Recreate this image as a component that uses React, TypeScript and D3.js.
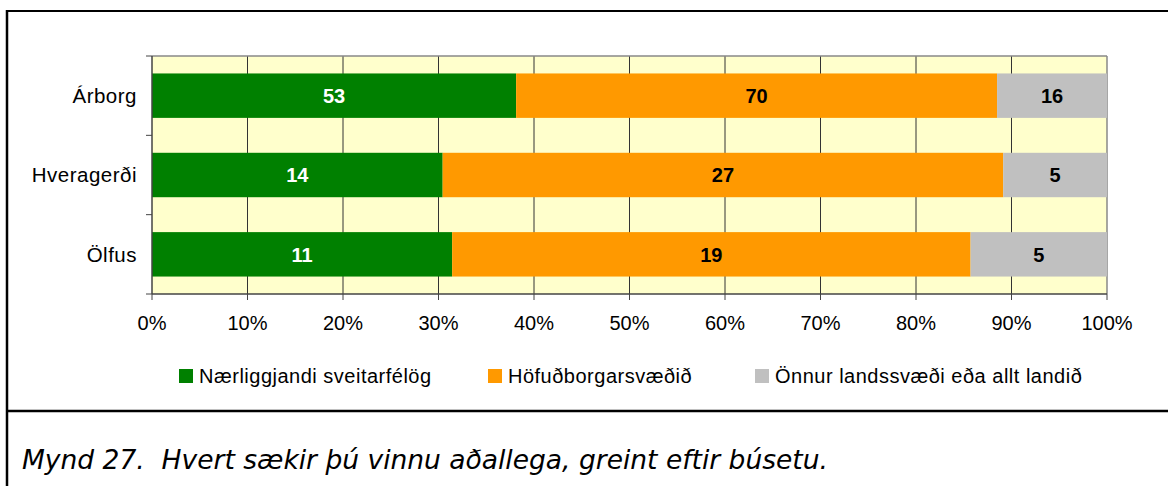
import React from 'react';
import { scaleBand, scaleLinear, stack, range } from 'd3';

// counts per place of residence
const places = ['Árborg', 'Hveragerði', 'Ölfus'];
const seriesNames = [
  'Nærliggjandi sveitarfélög',
  'Höfuðborgarsvæðið',
  'Önnur landssvæði eða allt landið',
];
const nearby = [53, 14, 11];
const capital = [70, 27, 19];
const other = [16, 5, 5];
const xTicks = [0, 0.1, 0.2, 0.3, 0.4, 0.5, 0.6, 0.7, 0.8, 0.9, 1];
const caption = 'Mynd 27.\u00a0\u00a0Hvert sækir þú vinnu aðallega, greint eftir búsetu.';

const colors = ['#008000', '#FF9900', '#C0C0C0'];
const labelColors = ['#ffffff', '#000000', '#000000'];

const W = 1168;
const H = 486;
const plot = { left: 152, right: 1107, top: 56, bottom: 294 };
const font = '"Liberation Sans", Arial, sans-serif';

const App = () => {
  // turn the counts into shares of each row
  const rows = places.map((p, i) => {
    const total = nearby[i] + capital[i] + other[i];
    return {
      name: p,
      k0: nearby[i] / total,
      k1: capital[i] / total,
      k2: other[i] / total,
      raw: [nearby[i], capital[i], other[i]],
    };
  });
  const layers = stack<any>().keys(['k0', 'k1', 'k2'])(rows);

  const x = scaleLinear().domain([0, 1]).range([plot.left, plot.right]);
  const y = scaleBand().domain(places).range([plot.top, plot.bottom]).paddingInner(0.44).paddingOuter(0.22);
  const band = scaleBand().domain(places).range([plot.top, plot.bottom]);

  const legendX = [179, 488, 755];

  return (
    <svg width={W} height={H} style={{ position: 'absolute', left: 0, top: 0 }}>
      <rect x={0} y={0} width={W} height={H} fill="#fff" />
      {/* frame */}
      <line x1={7} x2={W} y1={11} y2={11} stroke="#000" strokeWidth={2} />
      <line x1={7} x2={7} y1={10} y2={H} stroke="#000" strokeWidth={2.5} />
      <line x1={7} x2={W} y1={411} y2={411} stroke="#000" strokeWidth={2.5} />

      {/* plot area */}
      <rect x={plot.left} y={plot.top} width={plot.right - plot.left} height={plot.bottom - plot.top} fill="#FFFFCC" />
      {xTicks.slice(1, -1).map((t) => (
        <line key={t} x1={x(t)} x2={x(t)} y1={plot.top} y2={plot.bottom} stroke="#333" strokeWidth={1} />
      ))}
      <line x1={plot.left} x2={plot.right} y1={plot.top} y2={plot.top} stroke="#888" strokeWidth={1.5} />
      <line x1={plot.right} x2={plot.right} y1={plot.top} y2={plot.bottom} stroke="#888" strokeWidth={1.5} />

      {layers.map((layer, li) => (
        <g key={layer.key} fill={colors[li]}>
          {layer.map((d: any) => (
            <rect
              key={d.data.name}
              x={x(d[0])}
              width={x(d[1]) - x(d[0])}
              y={y(d.data.name)}
              height={y.bandwidth()}
            />
          ))}
        </g>
      ))}
      {layers.map((layer, li) => (
        <g key={'l' + layer.key}>
          {layer.map((d: any) => (
            <text
              key={d.data.name}
              x={(x(d[0]) + x(d[1])) / 2}
              y={(y(d.data.name) as number) + y.bandwidth() / 2}
              dy="0.36em"
              textAnchor="middle"
              fontFamily={font}
              fontWeight="bold"
              fontSize={20}
              fill={labelColors[li]}
            >
              {d.data.raw[li]}
            </text>
          ))}
        </g>
      ))}

      {/* axes */}
      <line x1={plot.left} x2={plot.left} y1={plot.top} y2={plot.bottom} stroke="#444" strokeWidth={1.5} />
      <line x1={plot.left} x2={plot.right} y1={plot.bottom} y2={plot.bottom} stroke="#444" strokeWidth={1.5} />
      {range(places.length + 1).map((i) => {
        const yy = plot.top + i * band.step();
        return <line key={i} x1={plot.left - 6} x2={plot.left} y1={yy} y2={yy} stroke="#444" strokeWidth={1} />;
      })}
      {places.map((p) => (
        <text
          key={p}
          x={137}
          y={(y(p) as number) + y.bandwidth() / 2}
          dy="0.36em"
          textAnchor="end"
          fontFamily={font}
          fontSize={20.5}
          letterSpacing={0.5}
          fill="#000"
        >
          {p}
        </text>
      ))}
      {xTicks.map((t) => (
        <g key={t}>
          <line x1={x(t)} x2={x(t)} y1={plot.bottom} y2={plot.bottom + 6} stroke="#444" strokeWidth={1} />
          <text x={x(t)} y={323} dy="0.36em" textAnchor="middle" fontFamily={font} fontSize={20} fill="#000">
            {Math.round(t * 100)}%
          </text>
        </g>
      ))}

      {/* legend */}
      {seriesNames.map((s, i) => (
        <g key={s} transform={`translate(${legendX[i]},376)`}>
          <rect x={0} y={-7} width={14} height={14} fill={colors[i]} />
          <text x={20} dy="0.36em" fontFamily={font} fontSize={20} letterSpacing={0.5} fill="#000">
            {s}
          </text>
        </g>
      ))}

      <text x={22} y={469} fontFamily='"DejaVu Sans", Verdana, sans-serif' fontStyle="italic" fontSize={26.5} fill="#000">
        {caption}
      </text>
    </svg>
  );
};

export default App;
